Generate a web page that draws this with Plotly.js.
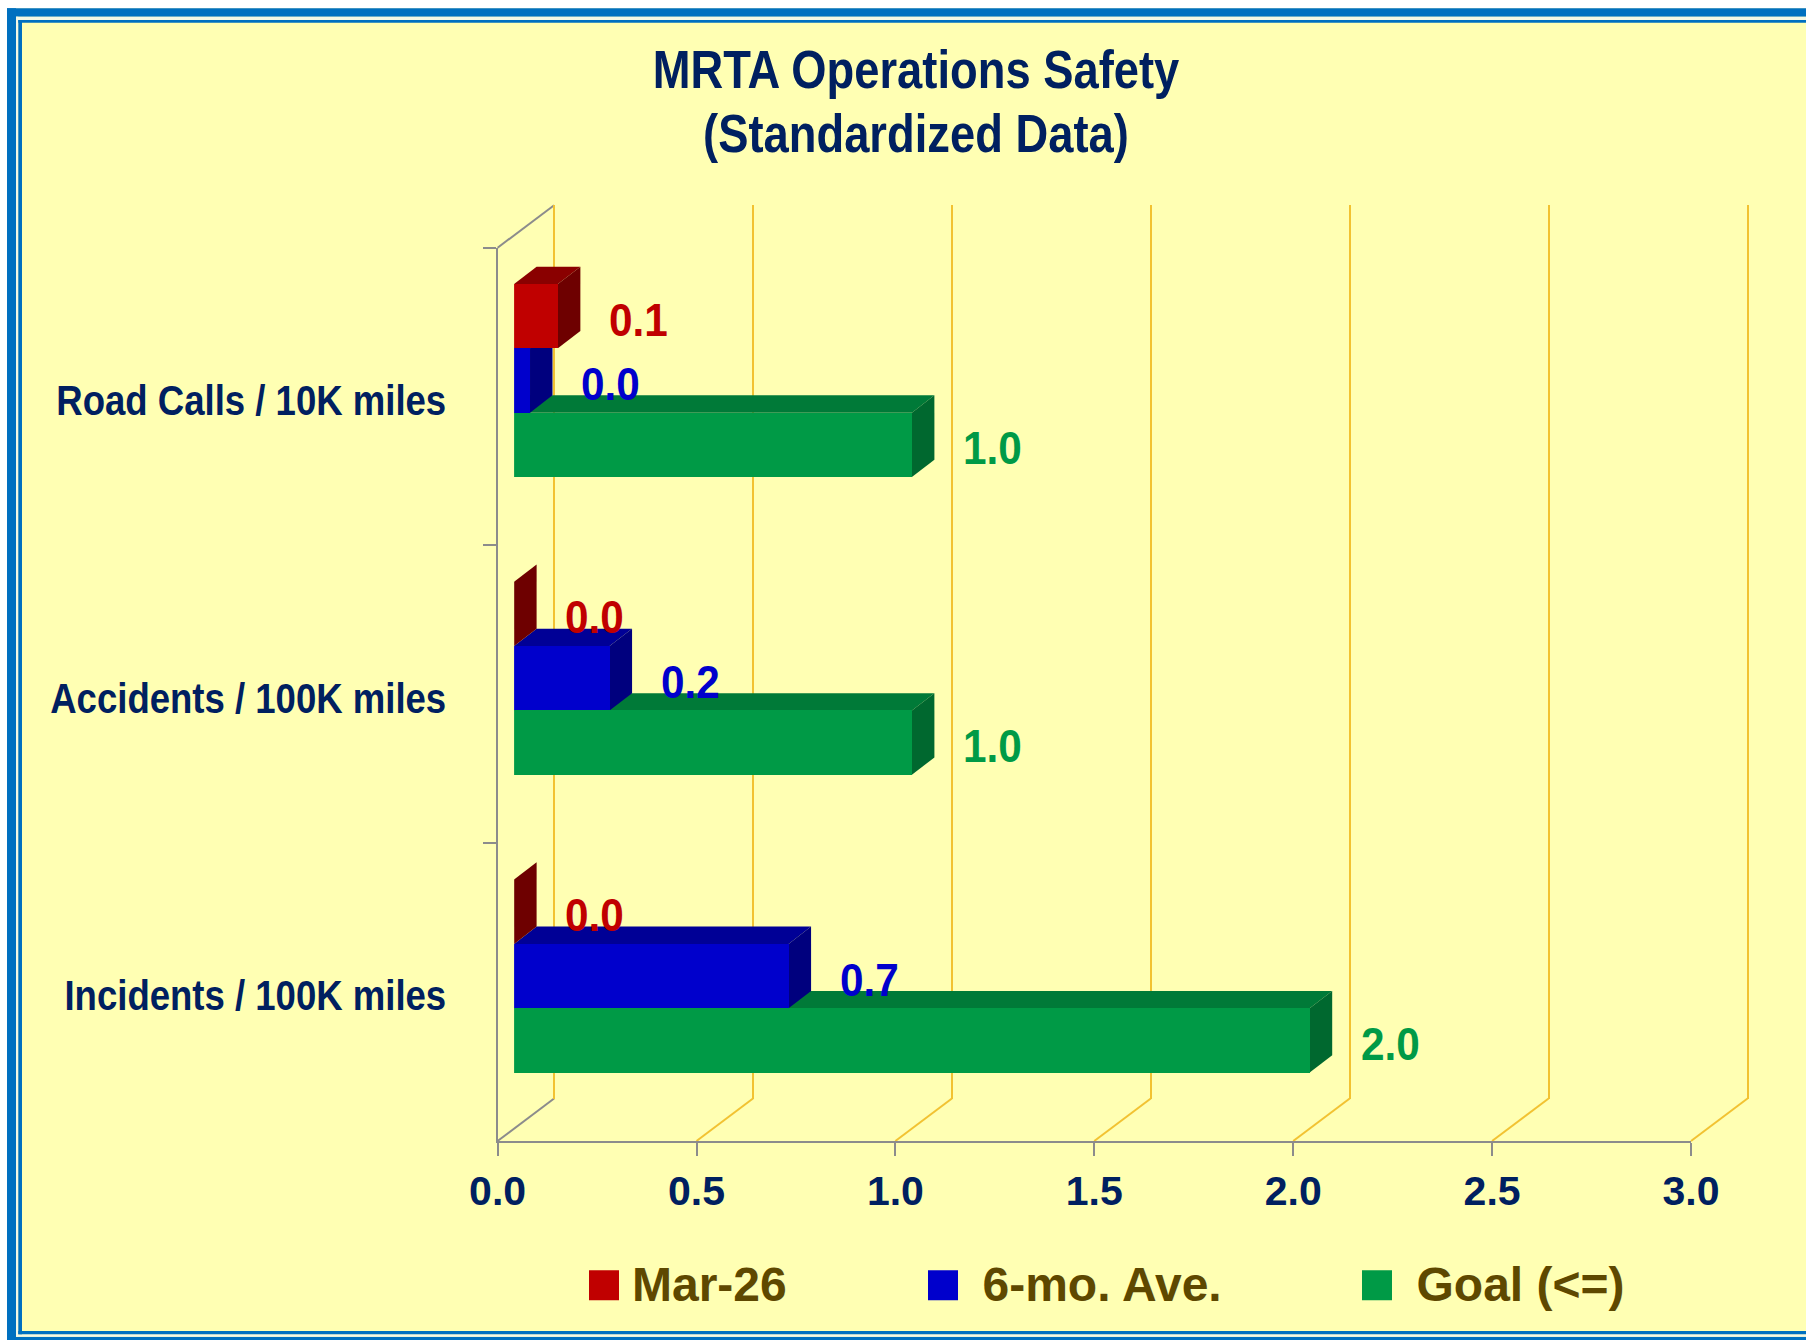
<!DOCTYPE html>
<html>
<head>
<meta charset="utf-8">
<script src="https://cdn.plot.ly/plotly-3.0.1.min.js"></script>
<style>html,body{margin:0;padding:0;background:#fff;}#chart{width:1806px;height:1340px;}</style>
</head>
<body>
<div id="chart"></div>
<script>
// ---- data ----
const categories = ['Road Calls / 10K miles', 'Accidents / 100K miles', 'Incidents / 100K miles'];
const seriesNames = ['Mar-26', '6-mo. Ave.', 'Goal (<=)'];
const mar26 = [0.11, 0.0, 0.0];
const sixMoAve = [0.04, 0.24, 0.69];
const goal = [1.0, 1.0, 2.0];
const xTickVals = [0, 0.5, 1.0, 1.5, 2.0, 2.5, 3.0];

// ---- styles ----
const W = 1806, H = 1340;
const SANS = '"Liberation Sans", Arial, sans-serif';
const NAVY = '#002060';
const frontColors = ['#C00000', '#0000CC', '#009A46'];
const topColors = ['#8A0000', '#000096', '#007A38'];
const sideColors = ['#6E0000', '#00007E', '#00682F'];
const legendText = '#5E4800';
const gridGold = '#F2C232';
const axisGrey = '#8C8C8C';

// frame geometry (pixels)
const fx0 = 497.6, fx1 = 1691, fyTop = 247.7, fyBot = 1141;   // front plane
const backDx = 56.5, backDy = 42.5;                            // back wall offset
const barDx0 = 16.5;                                           // bar front plane offset
const depthDx = 22.5, depthDy = 17.3;                          // bar depth (px)
const xMax = 3;
const barWidth = 0.216;
const barOffsets = [-0.378, -0.162, 0.054];

const px = v => v / W;
const py = v => 1 - v / H;

const series = [mar26, sixMoAve, goal];
const idx = categories.map((c, i) => i);

// ---- traces ----
const traces = series.map((vals, j) => ({
  type: 'bar', orientation: 'h',
  x: vals, y: idx,
  xaxis: 'x3', yaxis: 'y3',
  width: barWidth, offset: barOffsets[j],
  marker: {color: frontColors[j], line: {width: 0}},
  name: seriesNames[j],
  legend: j === 0 ? 'legend' : 'legend' + (j + 1),
  hoverinfo: 'x+name'
}));
// carrier traces so the front axes and the back wall subplot are drawn
traces.unshift({type: 'scatter', mode: 'none', x: goal, y: categories, xaxis: 'x', yaxis: 'y',
  showlegend: false, hoverinfo: 'skip'});
traces.unshift({type: 'scatter', mode: 'none', x: xTickVals, y: xTickVals.map(() => 0.5),
  xaxis: 'x2', yaxis: 'y2', showlegend: false, hoverinfo: 'skip'});

// ---- 3D faces for bars ----
const pxPerX = (fx1 - fx0) / xMax;
const pxPerY = (fyBot - fyTop) / categories.length;
const dX = depthDx / pxPerX, dY = depthDy / pxPerY;
const shapes = [];
categories.forEach((c, i) => {
  for (let j = series.length - 1; j >= 0; j--) {
    const v = series[j][i];
    const yT = i + barOffsets[j];
    const yB = yT + barWidth;
    shapes.push({type: 'path', xref: 'x3', yref: 'y3', layer: 'between',
      path: `M0,${yT} L${v},${yT} L${v + dX},${yT - dY} L${dX},${yT - dY} Z`,
      fillcolor: topColors[j], line: {width: 0}});
    shapes.push({type: 'path', xref: 'x3', yref: 'y3', layer: 'between',
      path: `M${v},${yT} L${v},${yB} L${v + dX},${yB - dY} L${v + dX},${yT - dY} Z`,
      fillcolor: sideColors[j], line: {width: 0}});
  }
});

// floor diagonals and left wall edges
xTickVals.forEach((t, k) => {
  const xf = fx0 + t * pxPerX;
  shapes.push({type: 'line', xref: 'paper', yref: 'paper', layer: 'below',
    x0: px(xf), y0: py(fyBot), x1: px(xf + backDx), y1: py(fyBot - backDy),
    line: {color: k === 0 ? axisGrey : gridGold, width: 2}});
});
shapes.push({type: 'line', xref: 'paper', yref: 'paper', layer: 'below',
  x0: px(fx0), y0: py(fyTop), x1: px(fx0 + backDx), y1: py(fyTop - backDy),
  line: {color: axisGrey, width: 2}});

// border frame
function rectPx(x0, y0, x1, y1, color) {
  shapes.push({type: 'rect', xref: 'paper', yref: 'paper', layer: 'above',
    x0: px(x0), x1: px(x1), y0: py(y1), y1: py(y0), fillcolor: color, line: {width: 0}});
}
rectPx(0, 0, 7, H, '#FFFFFF');
rectPx(0, 0, W, 8.3, '#FFFFFF');
rectPx(7, 8.3, 16, H, '#0070C0');
rectPx(7, 8.3, W, 16.7, '#0070C0');
rectPx(7, 1336.7, W, H, '#0070C0');
rectPx(16, 16.7, 18.3, 1336.7, '#F4F8E4');
rectPx(16, 16.7, W, 20, '#F4F8E4');
rectPx(16, 1334.3, W, 1336.7, '#F4F8E4');
rectPx(18.3, 20, 22, 1334.3, '#0070C0');
rectPx(18.3, 20, W, 22.7, '#0070C0');
rectPx(18.3, 1331, W, 1334.3, '#0070C0');

// ---- data labels ----
const annotations = [];
series.forEach((vals, j) => {
  vals.forEach((v, i) => {
    annotations.push({xref: 'x3', yref: 'y3', x: v, y: i + barOffsets[j] + barWidth / 2,
      text: v.toFixed(1), showarrow: false, xanchor: 'left', yanchor: 'middle',
      xshift: 49, yshift: -3,
      font: {family: SANS, size: 47, color: frontColors[j], weight: 'bold'}});
  });
});

const legendBase = {orientation: 'h', yanchor: 'middle', y: py(1282.5), xanchor: 'left',
  bgcolor: 'rgba(0,0,0,0)', borderwidth: 0,
  font: {family: SANS, size: 48, color: legendText, weight: 'bold'}};
const legendX = [576, 903.5, 1337.5];
const legendItemW = [46, 69, 69];

// back wall axis is padded by a few pixels so the end gridlines are kept
const gridPadPx = 3, gridPad = gridPadPx / pxPerX;

const layout = {
  width: W, height: H,
  margin: {l: 0, r: 0, t: 0, b: 0},
  paper_bgcolor: '#FFFFB3', plot_bgcolor: 'rgba(0,0,0,0)',
  title: {text: 'MRTA Operations Safety<br>(Standardized Data)', x: px(916), xanchor: 'center',
    xref: 'container', yref: 'container', y: py(88.5), yanchor: 'top',
    font: {family: SANS, size: 54, color: NAVY, weight: 'bold'}},
  xaxis: {domain: [px(fx0), px(fx1)], range: [0, xMax], anchor: 'y', tickvals: xTickVals,
    tickformat: '.1f', ticks: 'outside', ticklen: 13, tickwidth: 2, tickcolor: axisGrey,
    showline: true, linecolor: axisGrey, linewidth: 2, showgrid: false, zeroline: false,
    ticklabelstandoff: 10.5, automargin: false, fixedrange: true,
    tickfont: {family: SANS, size: 41, color: NAVY, weight: 'bold'}},
  yaxis: {domain: [py(fyBot), py(fyTop)], type: 'category', categoryorder: 'array',
    categoryarray: categories, range: [2.5, -0.5], anchor: 'x', tickson: 'boundaries',
    ticks: 'outside', ticklen: 13, tickwidth: 2, tickcolor: axisGrey,
    showline: true, linecolor: axisGrey, linewidth: 2, showgrid: false, zeroline: false,
    ticklabelstandoff: 41, automargin: false, fixedrange: true,
    tickfont: {family: SANS, size: 42, color: NAVY, weight: 'bold'}},
  xaxis2: {domain: [px(fx0 + backDx - gridPadPx), px(fx1 + backDx + gridPadPx)],
    range: [-gridPad, xMax + gridPad], anchor: 'y2',
    tickvals: xTickVals, showgrid: true, gridcolor: gridGold, gridwidth: 2,
    showticklabels: false, ticks: '', zeroline: false, showline: false, fixedrange: true},
  yaxis2: {domain: [py(fyBot - backDy), py(fyTop - backDy)], range: [0, 1], anchor: 'x2',
    showgrid: false, showticklabels: false, ticks: '', zeroline: false, showline: false, fixedrange: true},
  xaxis3: {domain: [px(fx0 + barDx0), px(fx1 + barDx0)], range: [0, xMax], anchor: 'y3',
    visible: false, fixedrange: true},
  yaxis3: {domain: [py(fyBot), py(fyTop)], range: [2.5, -0.5], anchor: 'x3',
    visible: false, fixedrange: true},
  legend: Object.assign({}, legendBase, {x: px(legendX[0]), itemwidth: legendItemW[0]}),
  legend2: Object.assign({}, legendBase, {x: px(legendX[1]), itemwidth: legendItemW[1]}),
  legend3: Object.assign({}, legendBase, {x: px(legendX[2]), itemwidth: legendItemW[2]}),
  shapes: shapes,
  annotations: annotations,
  bargap: 0, showlegend: true
};

// horizontal condensing of text (the original uses a narrow bold face)
function squeeze(el, s, mode, dy) {
  const b = el.getBBox();
  const ax = mode === 'left' ? b.x : (mode === 'right' ? b.x + b.width : b.x + b.width / 2);
  const t = el.getAttribute('transform') || '';
  el.setAttribute('transform', t + ` translate(${ax},${dy || 0}) scale(${s},1) translate(${-ax},0)`);
}

Plotly.newPlot('chart', traces, layout, {displayModeBar: false, staticPlot: true}).then(gd => {
  gd.querySelectorAll('.legendpoints path').forEach(p => p.setAttribute('d', 'M15,18H-15V-12H15Z'));
  gd.querySelectorAll('.gtitle tspan.line').forEach((t, i) => { if (i > 0) t.setAttribute('dy', (i * 1.17) + 'em'); });
  gd.querySelectorAll('.gtitle').forEach(el => squeeze(el, 0.84, 'center'));
  gd.querySelectorAll('g.ytick text').forEach(el => squeeze(el, 0.87, 'right', 3.5));
  gd.querySelectorAll('.annotation-text').forEach(el => squeeze(el, 0.9, 'left'));
});
</script>
</body>
</html>
